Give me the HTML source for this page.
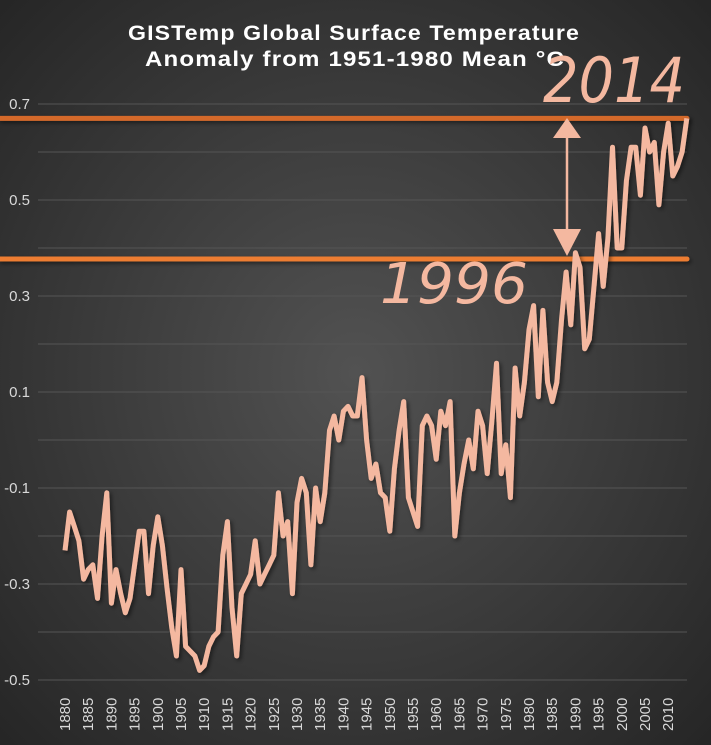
<!DOCTYPE html>
<html><head><meta charset="utf-8"><style>
html,body{margin:0;padding:0;width:711px;height:745px;overflow:hidden;background:#2e2e2e}
svg{display:block}
</style></head><body>
<svg width="711" height="745" viewBox="0 0 711 745">
<defs>
<radialGradient id="bg" cx="50%" cy="50%" r="70%">
<stop offset="0" stop-color="#525252"/><stop offset="1" stop-color="#262626"/>
</radialGradient>
<filter id="sh" filterUnits="userSpaceOnUse" x="0" y="0" width="711" height="745"><feDropShadow dx="2" dy="2" stdDeviation="2" flood-color="#000" flood-opacity="0.5"/></filter>
</defs>
<rect x="0" y="0" width="711" height="745" fill="url(#bg)"/>
<g id="grid"></g>
<g id="ylab"></g>
<g id="xlab"></g>
<text x="128" y="40" textLength="452" lengthAdjust="spacingAndGlyphs" fill="#fff" font-family="Liberation Sans, sans-serif" font-weight="bold" font-size="21" letter-spacing="1">GISTemp Global Surface Temperature</text>
<text x="145" y="66" textLength="420" lengthAdjust="spacingAndGlyphs" fill="#fff" font-family="Liberation Sans, sans-serif" font-weight="bold" font-size="21" letter-spacing="1">Anomaly from 1951-1980 Mean °C</text>
<g id="refs"></g>
<path id="series" fill="none" stroke="#f4b8a0" stroke-width="5" stroke-linejoin="round" filter="url(#sh)"/>
<g fill="#f4b8a0" stroke="#f4b8a0">
<line x1="567" y1="130" x2="567" y2="245" stroke-width="2.5"/>
<polygon points="567,118 553,138 581,138" stroke="none"/>
<polygon points="567,256 553,229 581,229" stroke="none"/>
</g>
<text x="543" y="102" fill="#f4b8a0" font-family="DejaVu Sans, sans-serif" font-style="italic" font-size="62" textLength="142" lengthAdjust="spacingAndGlyphs">2014</text>
<text x="380" y="303" fill="#f4b8a0" font-family="DejaVu Sans, sans-serif" font-style="italic" font-size="56" textLength="148" lengthAdjust="spacingAndGlyphs">1996</text>
</svg>
<script>
const years=[];for(let y=1880;y<=2014;y++)years.push(y);
const anomalies=[-0.23,-0.15,-0.18,-0.21,-0.29,-0.27,-0.26,-0.33,-0.2,-0.11,
-0.34,-0.27,-0.32,-0.36,-0.33,-0.26,-0.19,-0.19,-0.32,-0.22,
-0.16,-0.22,-0.31,-0.39,-0.45,-0.27,-0.43,-0.44,-0.45,-0.48,
-0.47,-0.43,-0.41,-0.40,-0.24,-0.17,-0.35,-0.45,-0.32,-0.30,
-0.28,-0.21,-0.30,-0.28,-0.26,-0.24,-0.11,-0.20,-0.17,-0.32,
-0.13,-0.08,-0.11,-0.26,-0.10,-0.17,-0.11,0.02,0.05,0.0,
0.06,0.07,0.05,0.05,0.13,0.0,-0.08,-0.05,-0.11,-0.12,
-0.19,-0.06,0.02,0.08,-0.12,-0.15,-0.18,0.03,0.05,0.03,
-0.04,0.06,0.03,0.08,-0.20,-0.11,-0.05,0.0,-0.06,0.06,
0.03,-0.07,0.04,0.16,-0.07,-0.01,-0.12,0.15,0.05,0.12,
0.23,0.28,0.09,0.27,0.12,0.08,0.12,0.25,0.35,0.24,
0.39,0.36,0.19,0.21,0.32,0.43,0.32,0.42,0.61,0.40,
0.40,0.54,0.61,0.61,0.51,0.65,0.60,0.62,0.49,0.60,
0.66,0.55,0.57,0.60,0.67];
const yTicks=[0.7,0.5,0.3,0.1,-0.1,-0.3,-0.5];
const xTickYears=[1880,1885,1890,1895,1900,1905,1910,1915,1920,1925,1930,1935,1940,1945,1950,1955,1960,1965,1970,1975,1980,1985,1990,1995,2000,2005,2010];
const refValues=[0.67,0.377];
const NS='http://www.w3.org/2000/svg';
const X=yr=>65+(yr-1880)*4.64;
const Y=v=>392-(v-0.1)*480;
const grid=document.getElementById('grid');
for(let i=-5;i<=7;i++){const v=i/10;const l=document.createElementNS(NS,'line');
l.setAttribute('x1',38);l.setAttribute('x2',687);l.setAttribute('y1',Y(v));l.setAttribute('y2',Y(v));
l.setAttribute('stroke','#555');l.setAttribute('stroke-width','1');


grid.appendChild(l);}
const yl=document.getElementById('ylab');
yTicks.forEach(v=>{const t=document.createElementNS(NS,'text');
t.setAttribute('x',30);t.setAttribute('y',Y(v)+5);t.setAttribute('text-anchor','end');
t.setAttribute('fill','#d9d9d9');t.setAttribute('font-family','Liberation Sans, sans-serif');t.setAttribute('font-size','15');
t.textContent=v.toFixed(1);


yl.appendChild(t);});
const xl=document.getElementById('xlab');
xTickYears.forEach(yr=>{const t=document.createElementNS(NS,'text');
const x=X(yr)+5;t.setAttribute('transform','translate('+x+',731) rotate(-90)');
t.setAttribute('fill','#d9d9d9');t.setAttribute('font-family','Liberation Sans, sans-serif');t.setAttribute('font-size','15');
t.textContent=yr;


xl.appendChild(t);});
const refs=document.getElementById('refs');
const refColors=['#d4692c','#ed7d31'];
refValues.forEach((v,i)=>{const l=document.createElementNS(NS,'line');
l.setAttribute('x1',0);l.setAttribute('x2',687);l.setAttribute('y1',Y(v));l.setAttribute('y2',Y(v));
l.setAttribute('stroke',refColors[i]);l.setAttribute('stroke-width','5');l.setAttribute('stroke-linecap','round');l.setAttribute('filter','url(#sh)');


refs.appendChild(l);});
document.getElementById('series').setAttribute('d',anomalies.map((v,i)=>(i?'L':'M')+X(years[i]).toFixed(1)+','+Y(v).toFixed(1)).join(''));
</script>
</body></html>
